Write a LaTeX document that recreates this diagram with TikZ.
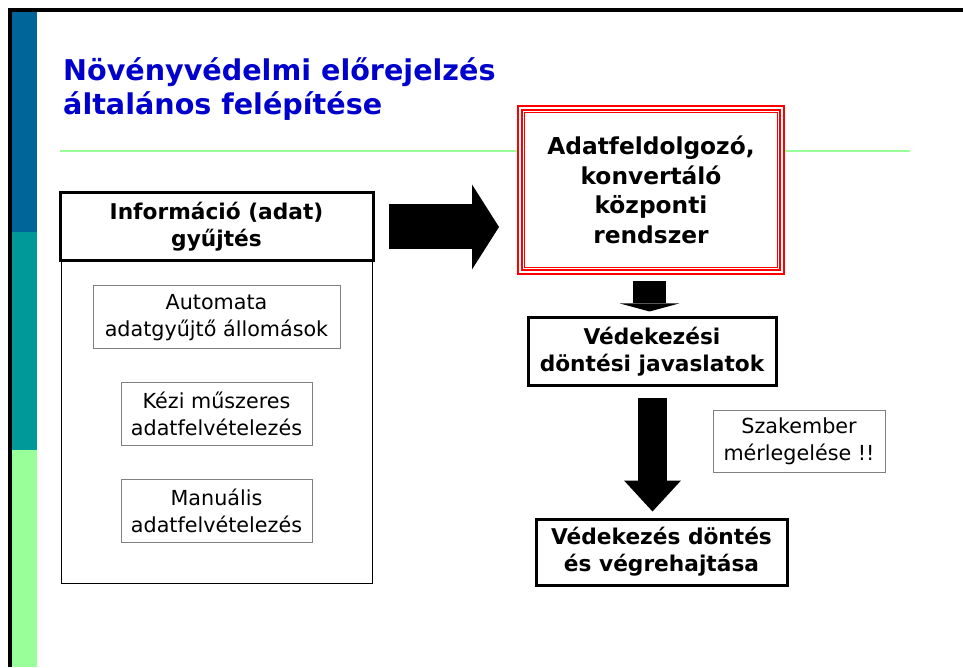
\documentclass[tikz,border=0pt]{standalone}
\usepackage{fontspec}
\setmainfont{DejaVu Sans}
\usetikzlibrary{positioning,calc,arrows.meta}
\definecolor{cimkek}{RGB}{0,0,204}
\definecolor{savkek}{RGB}{0,102,153}
\definecolor{savzold}{RGB}{0,153,153}
\definecolor{vilagzold}{RGB}{153,255,153}
\tikzset{
    fejlec/.style={draw, line width=3pt, fill=white, inner sep=0pt, align=center, font=\bfseries\fontsize{21.7}{27}\selectfont},
    alblokk/.style={draw=gray, line width=1pt, fill=white, inner sep=0pt, align=center, font=\fontsize{20.7}{27}\selectfont},
    kozpont/.style={draw=red, line width=2pt, double=white, double distance=1.5pt, fill=white, inner sep=0pt, align=center, font=\bfseries\fontsize{23.3}{29.5}\selectfont}
}

\begin{document}
\begin{tikzpicture}[x=1pt, y=1pt, on grid]

\useasboundingbox (0,0) rectangle (963,667);

% Keret es oldalsav
\fill[black] (8,659) rectangle (963,655);
\fill[black] (8,659) rectangle (12,0);
\fill[savkek] (12,655) rectangle (37,435);
\fill[savzold] (12,435) rectangle (37,217);
\fill[vilagzold] (12,217) rectangle (37,0);
\draw[vilagzold, line width=1.2pt] (60,516) -- (910,516);

% Cim
\node[anchor=north west, align=left, inner sep=0pt, text=cimkek, font=\bfseries\fontsize{28.6}{34}\selectfont] (cim) at (63,610) {Növényvédelmi előrejelzés\\általános felépítése};

% Blokkok
\node [draw, line width=1pt, inner sep=0pt, minimum width=311pt, minimum height=322pt] (panel) at (216.5,245) {};
\node [fejlec, minimum width=313pt, minimum height=68pt, above=195pt of panel] (gyujtes) {Információ (adat)\\gyűjtés};
\node [alblokk, minimum width=247pt, minimum height=63pt, below=90.5pt of gyujtes] (automata) {Automata\\adatgyűjtő állomások};
\node [alblokk, minimum width=191pt, minimum height=62pt, below=96.5pt of automata] (kezi) {Kézi műszeres\\adatfelvételezés};
\node [alblokk, minimum width=191pt, minimum height=63pt, below=96.5pt of kezi] (manualis) {Manuális\\adatfelvételezés};

\node [kozpont, minimum width=262pt, minimum height=164pt] (kozpontirendszer) at (651,477) {Adatfeldolgozó,\\konvertáló\\központi\\rendszer};
\draw[red, line width=1pt] ($(kozpontirendszer.north west)+(5.5,-5.5)$) rectangle ($(kozpontirendszer.south east)+(-5.5,5.5)$);
\node [fejlec, minimum width=248pt, minimum height=68pt, below right=162pt and 1pt of kozpontirendszer] (javaslat) {Védekezési\\döntési javaslatok};
\node [fejlec, minimum width=251pt, minimum height=66pt, below right=200pt and 9.5pt of javaslat] (dontes) {Védekezés döntés\\és végrehajtása};
\node [alblokk, minimum width=172pt, minimum height=61pt, below right=89.5pt and 147pt of javaslat] (szakember) {Szakember\\mérlegelése !!};

% Nyilak
\draw[line width=45pt, -{Triangle[length=27pt, width=85pt, line width=0pt]}] ($(gyujtes.east)+(14,0)$) -- ($(gyujtes.east -| kozpontirendszer.west)+(-20,0)$);
\draw[line width=33pt, -{Triangle[length=8pt, width=59pt, line width=0pt]}] ($(kozpontirendszer.south)+(-1.5,-8)$) -- ($(kozpontirendszer.south |- javaslat.north)+(-1.5,5)$);
\draw[line width=29pt, -{Triangle[length=31pt, width=57pt, line width=0pt]}] ($(javaslat.south)+(0.5,-11)$) -- ($(javaslat.south |- dontes.north)+(0.5,6)$);

\end{tikzpicture}
\end{document}
